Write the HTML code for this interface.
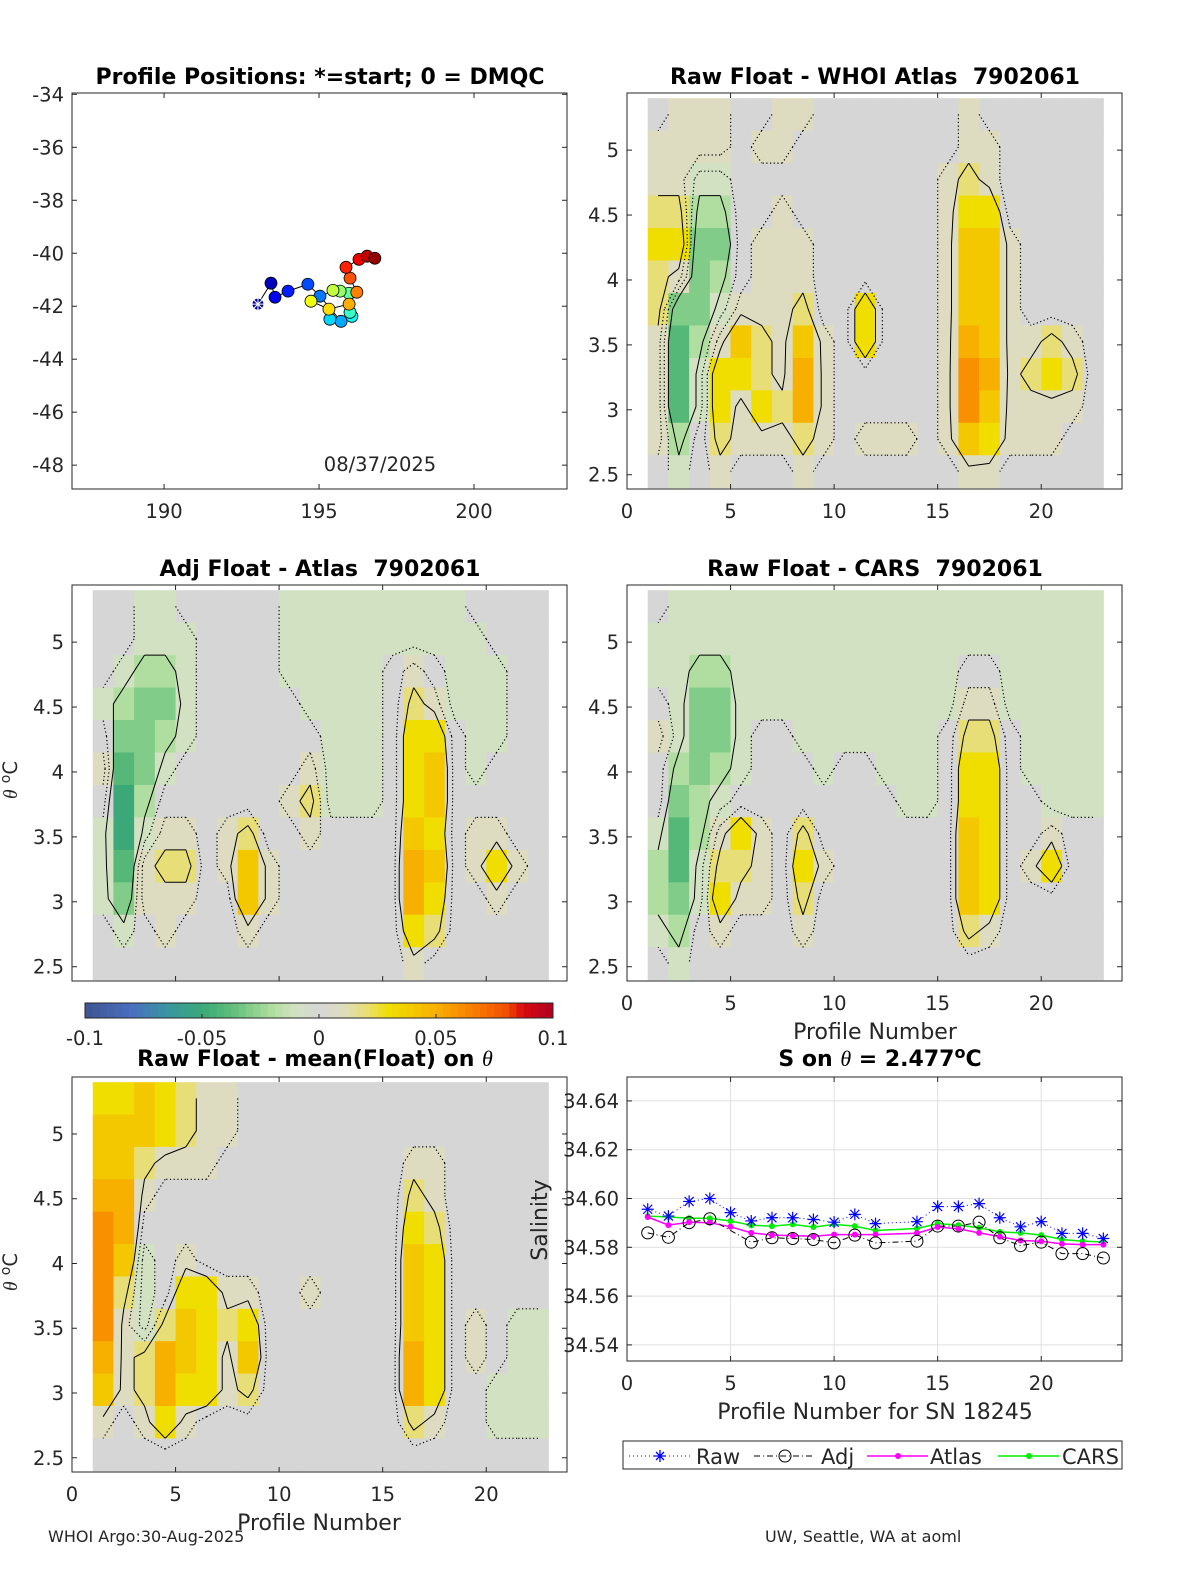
<!DOCTYPE html>
<html><head><meta charset="utf-8"><style>
html,body{margin:0;padding:0;background:#fff}
svg{display:block}
text{font-family:"DejaVu Sans","Liberation Sans",sans-serif;fill:#262626}
.t{font-weight:bold;font-size:22px;fill:#000}
.tk{font-size:19.5px}
</style></head><body>
<svg id="fig" width="1200" height="1575" viewBox="0 0 1200 1575" xmlns="http://www.w3.org/2000/svg">
<rect width="1200" height="1575" fill="#fff"/>
<g id="p1"></g>
<g id="p2"></g>
<g id="p3"></g>
<g id="p4"></g>
<g id="p5"></g>
<g id="p6"></g>
<g id="cb"></g>
<text class="t" x="320" y="84" text-anchor="middle">Profile Positions: *=start; 0 = DMQC</text>
<text class="t" x="875" y="84" text-anchor="middle">Raw Float - WHOI Atlas&#160; 7902061</text>
<text class="t" x="320" y="576" text-anchor="middle">Adj Float - Atlas&#160; 7902061</text>
<text class="t" x="875" y="576" text-anchor="middle">Raw Float - CARS&#160; 7902061</text>
<text class="t" x="315" y="1066" text-anchor="middle">Raw Float - mean(Float) on <tspan font-family="Liberation Serif" font-style="italic" font-weight="normal">θ</tspan></text>
<text class="t" x="880" y="1066" text-anchor="middle">S on <tspan font-family="Liberation Serif" font-style="italic" font-weight="normal">θ</tspan> = 2.477<tspan dy="-8" font-size="16">o</tspan><tspan dy="8">C</tspan></text>
<text class="tk" x="380" y="471" text-anchor="middle">08/37/2025</text>
<text class="tk" x="0" y="0" font-size="20" transform="translate(17,780) rotate(-90)" text-anchor="middle"><tspan font-family="Liberation Serif" font-style="italic">θ</tspan> <tspan dy="-7" font-size="14">o</tspan><tspan dy="7">C</tspan></text>
<text class="tk" x="0" y="0" font-size="20" transform="translate(17,1272) rotate(-90)" text-anchor="middle"><tspan font-family="Liberation Serif" font-style="italic">θ</tspan> <tspan dy="-7" font-size="14">o</tspan><tspan dy="7">C</tspan></text>
<text x="0" y="0" font-size="22" transform="translate(547,1220) rotate(-90)" text-anchor="middle">Salinity</text>
<text x="875" y="1039" font-size="22" text-anchor="middle">Profile Number</text>
<text x="319" y="1530" font-size="22" text-anchor="middle">Profile Number</text>
<text x="875" y="1419" font-size="22" text-anchor="middle">Profile Number for SN 18245</text>
<text x="48" y="1542" font-size="16">WHOI Argo:30-Aug-2025</text>
<text x="765" y="1542" font-size="16">UW, Seattle, WA at aoml</text>
<g id="legend">
<rect x="623" y="1441" width="499" height="28" fill="#fff" stroke="#262626" stroke-width="1"/>
<line x1="629" y1="1456" x2="691" y2="1456" stroke="#0000ff" stroke-dasharray="1,3"/>
<path d="M654 1456h12M660 1450v12M656 1452l8 8M664 1452l-8 8" stroke="#0000ff" stroke-width="1.3"/>
<text x="696" y="1464" font-size="21">Raw</text>
<line x1="754" y1="1456" x2="815" y2="1456" stroke="#000" stroke-dasharray="6,3,1,3"/>
<circle cx="785" cy="1456" r="6" fill="none" stroke="#000"/>
<text x="821" y="1464" font-size="21">Adj</text>
<line x1="867" y1="1456" x2="928" y2="1456" stroke="#ff00ff" stroke-width="1.5"/>
<circle cx="898" cy="1456" r="3" fill="#ff00ff"/>
<text x="930" y="1464" font-size="21">Atlas</text>
<line x1="998" y1="1456" x2="1059" y2="1456" stroke="#00ee00" stroke-width="1.5"/>
<circle cx="1029" cy="1456" r="3" fill="#00ee00"/>
<text x="1062" y="1464" font-size="21">CARS</text>
</g>
</svg>
<script>
// ---------- data ----------
const trackLon=[193.03,193.45,193.58,194.0,194.64,195.03,195.71,195.35,196.06,196.0,195.97,195.68,195.45,194.74,195.32,195.97,196.22,196.0,195.87,196.29,196.55,196.80];
const trackLat=[-41.92,-41.13,-41.66,-41.43,-41.17,-41.62,-42.57,-42.49,-42.38,-42.23,-41.51,-41.43,-41.40,-41.81,-42.11,-41.92,-41.47,-40.94,-40.53,-40.23,-40.11,-40.19];
const thetaBase=2.4, thetaStep=0.25;
// rows top (5.15-5.4) to bottom (2.4-2.65); units of 0.01 psu; columns profiles 1..22
const rawWhoi=[
[0,1,1,1,0,0,1,1,0,0,0,0,0,0,0,1,0,0,0,0,0,0],
[1,1,1,1,0,1,1,0,0,0,0,0,0,0,0,1,1,0,0,0,0,0],
[1,1,-1,-1,0,0,0,0,0,0,0,0,0,0,1,2,1,0,0,0,0,0],
[2,2,-2,-2,0,0,1,0,0,0,0,0,0,0,1,3,3,0,0,0,0,0],
[3,3,-3,-3,0,1,1,1,0,0,0,0,0,0,1,4,4,1,0,0,0,0],
[2,1,-3,-2,0,1,1,1,0,0,0,0,0,0,1,4,4,1,0,0,0,0],
[2,-3,-3,-1,1,1,1,2,0,0,3,0,0,0,1,4,4,1,0,0,0,0],
[1,-4,-2,1,4,2,1,4,1,0,3,0,0,0,1,5,4,1,1,2,1,0],
[1,-4,-1,3,3,2,1,5,1,0,0,0,0,0,1,6,5,1,2,3,2,0],
[1,-4,-1,3,1,3,2,5,1,0,0,0,0,0,1,6,4,1,1,1,1,0],
[1,-2,0,2,1,1,1,2,1,0,1,1,1,0,1,4,3,1,1,1,0,0],
[0,-1,0,1,0,0,0,1,0,0,0,0,0,0,0,1,1,0,0,0,0,0]];
const adjAtlas=[
[0,0,-1,-1,0,0,0,0,0,-1,-1,-1,-1,-1,-1,-1,-1,-1,0,0,0,0],
[0,0,-1,-1,-1,0,0,0,0,-1,-1,-1,-1,-1,-1,-1,-1,-1,-1,0,0,0],
[0,-1,-2,-2,-1,0,0,0,0,-1,-1,-1,-1,-1,0,1,0,-1,-1,-1,0,0],
[-1,-2,-3,-3,-1,0,0,0,0,0,-1,-1,-1,-1,0,2,1,-1,-1,-1,0,0],
[0,-3,-3,-2,-1,0,0,0,0,0,0,-1,-1,-1,0,3,3,0,-1,-1,0,0],
[1,-4,-3,-1,0,0,0,0,0,0,1,-1,-1,-1,0,3,4,0,-1,0,0,0],
[0,-5,-2,0,0,0,0,0,0,1,2,-1,-1,-1,0,3,4,0,0,0,0,0],
[-1,-5,-1,1,1,0,1,2,0,0,1,0,0,0,0,4,3,0,1,1,0,0],
[-1,-4,1,2,2,0,1,4,1,0,0,0,0,0,0,5,4,0,1,3,1,0],
[-1,-3,1,1,1,0,0,4,1,0,0,0,0,0,0,5,3,0,0,1,0,0],
[0,-1,0,1,0,0,0,1,0,0,0,0,0,0,0,3,2,0,0,0,0,0],
[0,0,0,0,0,0,0,0,0,0,0,0,0,0,0,1,0,0,0,0,0,0]];
const rawCars=[
[0,-1,-1,-1,-1,-1,-1,-1,-1,-1,-1,-1,-1,-1,-1,-1,-1,-1,-1,-1,-1,-1],
[-1,-1,-1,-1,-1,-1,-1,-1,-1,-1,-1,-1,-1,-1,-1,-1,-1,-1,-1,-1,-1,-1],
[-1,-1,-2,-2,-1,-1,-1,-1,-1,-1,-1,-1,-1,-1,-1,0,0,-1,-1,-1,-1,-1],
[0,-1,-3,-3,-1,-1,-1,-1,-1,-1,-1,-1,-1,-1,-1,1,1,-1,-1,-1,-1,-1],
[1,-1,-3,-3,-1,0,0,-1,-1,-1,-1,-1,-1,-1,0,2,2,0,-1,-1,-1,-1],
[0,-2,-3,-2,-1,0,0,0,-1,0,0,-1,-1,-1,0,3,3,0,-1,-1,-1,-1],
[0,-3,-2,-1,0,0,0,0,0,0,0,0,-1,-1,0,3,3,0,0,-1,-1,-1],
[-1,-4,-2,1,3,1,0,2,0,0,0,0,0,0,0,4,3,0,0,1,0,0],
[-2,-4,-1,2,2,1,0,3,1,0,0,0,0,0,0,4,3,0,1,3,0,0],
[-2,-3,-1,3,1,1,0,2,0,0,0,0,0,0,0,4,3,0,0,0,0,0],
[-1,-2,0,1,0,0,0,1,0,0,0,0,0,0,0,2,1,0,0,0,0,0],
[0,-1,0,0,0,0,0,0,0,0,0,0,0,0,0,0,0,0,0,0,0,0]];
const rawMean=[
[3,3,4,3,2,1,1,0,0,0,0,0,0,0,0,0,0,0,0,0,0,0],
[4,4,4,3,2,1,1,0,0,0,0,0,0,0,0,0,0,0,0,0,0,0],
[4,4,2,1,1,1,0,0,0,0,0,0,0,0,0,1,1,0,0,0,0,0],
[5,5,1,0,0,0,0,0,0,0,0,0,0,0,0,2,1,0,0,0,0,0],
[6,5,0,0,0,0,0,0,0,0,0,0,0,0,0,3,2,0,0,0,0,0],
[6,4,-1,0,1,0,0,0,0,0,0,0,0,0,0,4,3,0,0,0,0,0],
[6,2,-1,0,3,3,1,1,0,0,1,0,0,0,0,4,3,0,0,0,0,0],
[6,1,-1,2,4,3,2,3,0,0,0,0,0,0,0,4,3,0,1,0,-1,-1],
[5,1,2,5,4,3,1,4,0,0,0,0,0,0,0,5,3,0,1,0,-1,-1],
[4,1,2,5,3,3,1,2,0,0,0,0,0,0,0,5,3,0,0,-1,-1,-1],
[1,0,1,3,1,0,0,0,0,0,0,0,0,0,0,2,1,0,0,-1,-1,-1],
[0,0,0,0,0,0,0,0,0,0,0,0,0,0,0,0,0,0,0,0,0,0]];
const rawProf=[1,2,3,4,5,6,7,8,9,10,11,12,14,15,16,17,18,19,20,21,22,23];
const rawSal=[34.5956,34.5928,34.5988,34.6000,34.5942,34.5908,34.5921,34.5921,34.5914,34.5903,34.5935,34.5897,34.5905,34.5967,34.5967,34.5979,34.5921,34.5884,34.5905,34.5857,34.5857,34.5836];
const adjProf=[1,2,3,4,6,7,8,9,10,11,12,14,15,16,17,18,19,20,21,22,23];
const adjSal=[34.5859,34.5841,34.5901,34.5917,34.5821,34.5839,34.5836,34.5832,34.5818,34.5850,34.5818,34.5825,34.5887,34.5887,34.5903,34.5839,34.5807,34.5821,34.5774,34.5774,34.5756];
const atlasSal=[34.5924,34.5891,34.5903,34.5901,34.5884,34.5859,34.5850,34.5848,34.5845,34.5852,34.5852,34.5852,34.5858,34.5883,34.5876,34.5859,34.5844,34.5828,34.5825,34.5814,34.5811,34.5811];
const carsSal=[34.5928,34.5924,34.5919,34.5919,34.5908,34.5890,34.5887,34.5894,34.5883,34.5894,34.5887,34.5869,34.5877,34.5897,34.5891,34.5880,34.5863,34.5859,34.5850,34.5832,34.5825,34.5822];
const thetaTicks=[2.5,3,3.5,4,4.5,5];
const profTicks=[0,5,10,15,20];
const salTicks=[34.54,34.56,34.58,34.60,34.62,34.64];
const lonTicks=[190,195,200];
const latTicks=[-34,-36,-38,-40,-42,-44,-46,-48];
const cbTicks=[-0.1,-0.05,0,0.05,0.1];

// ---------- helpers ----------
const NS='http://www.w3.org/2000/svg';
function mk(parent,tag,attrs,txt){const e=document.createElementNS(NS,tag);for(const k in attrs)e.setAttribute(k,attrs[k]);if(txt!==undefined)e.textContent=txt;parent.appendChild(e);return e;}
function lin(d0,d1,r0,r1){return v=>r0+(v-d0)/(d1-d0)*(r1-r0);}
const stops=[[-10,[62,85,144]],[-8,[74,111,192]],[-6.5,[58,150,160]],[-5,[58,168,120]],[-4,[85,184,120]],[-3,[128,204,136]],[-2,[176,222,160]],[-1,[210,225,194]],[0,[214,214,214]],[1,[222,220,192]],[2,[232,222,120]],[3,[240,222,0]],[4,[244,200,0]],[5,[248,176,0]],[6,[248,144,0]],[7,[248,112,0]],[8,[240,80,0]],[8.7,[216,10,16]],[10,[176,0,32]]];
function cmap(v){v=Math.max(-10,Math.min(10,v));for(let i=0;i<stops.length-1;i++){const a=stops[i],b=stops[i+1];if(v<=b[0]){const t=(v-a[0])/(b[0]-a[0]);const c=a[1].map((x,k)=>Math.round(x+(b[1][k]-x)*t));return 'rgb('+c.join(',')+')';}}return 'rgb(176,0,32)';}
function jet(t){const r=Math.min(1,Math.max(0,1.5-Math.abs(4*t-3))),g=Math.min(1,Math.max(0,1.5-Math.abs(4*t-2))),b=Math.min(1,Math.max(0,1.5-Math.abs(4*t-1)));return 'rgb('+[r,g,b].map(x=>Math.round(x*255)).join(',')+')';}

function frame(g,x0,y0,w,h,xs,ys,xt,yt,showX,yLeft){
  mk(g,'rect',{x:x0,y:y0,width:w,height:h,fill:'none',stroke:'#262626','stroke-width':1});
  xt.forEach(v=>{const x=xs(v);
    const l1=mk(g,'line',{x1:x,y1:y0,x2:x,y2:y0+5,stroke:'#262626'});
    
    
    mk(g,'line',{x1:x,y1:y0+h,x2:x,y2:y0+h-5,stroke:'#262626'});
    if(showX){const t=mk(g,'text',{x:x,y:y0+h+29,'text-anchor':'middle',class:'tk'},String(v));
      
      }
  });
  yt.forEach(v=>{const y=ys(v);
    mk(g,'line',{x1:x0,y1:y,x2:x0+5,y2:y,stroke:'#262626'});
    mk(g,'line',{x1:x0+w,y1:y,x2:x0+w-5,y2:y,stroke:'#262626'});
    const t=mk(g,'text',{x:x0-8,y:y+7,'text-anchor':'end',class:'tk'},yLeft(v));
    
    
  });
}

function heat(g,data,x0,y0,w,h,showX){
  const xs=lin(0,23.9,x0,x0+w), ys=lin(2.39,5.44,y0+h,y0);
  const nr=data.length, nc=data[0].length;
  const cells=mk(g,'g',{});
  
  
  for(let i=0;i<nr;i++)for(let j=0;j<nc;j++){
    const tb=thetaBase+(nr-1-i)*thetaStep;
    const xa=xs(j+1),xb=xs(j+2),ya=ys(tb+thetaStep),yb=ys(tb);
    const r=mk(cells,'rect',{x:xa,y:ya,width:xb-xa+0.5,height:yb-ya+0.5,fill:cmap(data[i][j])});
    
    
  }
  const cx=j=>xs(j+1.5), cy=i=>ys(thetaBase+(nr-1-i)*thetaStep+thetaStep/2);
  [[1.5,false],[-1.5,false],[0.5,true],[-0.5,true]].forEach(([lev,dot])=>{
    let d='';
    for(let i=0;i<nr-1;i++)for(let j=0;j<nc-1;j++){
      const a=data[i][j],b=data[i][j+1],c=data[i+1][j+1],e=data[i+1][j];
      const P=[];
      const ed=(v1,v2,x1,y1,x2,y2)=>{if((v1>lev)!==(v2>lev)){const t=(lev-v1)/(v2-v1);P.push([x1+(x2-x1)*t,y1+(y2-y1)*t]);}};
      ed(a,b,cx(j),cy(i),cx(j+1),cy(i));
      ed(b,c,cx(j+1),cy(i),cx(j+1),cy(i+1));
      ed(c,e,cx(j+1),cy(i+1),cx(j),cy(i+1));
      ed(e,a,cx(j),cy(i+1),cx(j),cy(i));
      for(let k=0;k+1<P.length;k+=2)d+='M'+P[k][0].toFixed(1)+' '+P[k][1].toFixed(1)+'L'+P[k+1][0].toFixed(1)+' '+P[k+1][1].toFixed(1);
    }
    const p=mk(g,'path',{d:d,fill:'none',stroke:'#000','stroke-width':dot?1.2:1,'stroke-dasharray':dot?'1.2,2.5':'none'});
    
    
  });
  frame(g,x0,y0,w,h,xs,ys,profTicks,thetaTicks,showX,v=>String(v));
}

// ---------- panel 1: positions ----------
(function(){
  const g=document.getElementById('p1');
  const x0=72,y0=93,w=495,h=396;
  const xs=lin(187.03,203,x0,x0+w), ys=lin(-48.9,-33.95,y0+h,y0);
  const line=mk(g,'polyline',{points:trackLon.map((v,i)=>xs(v)+','+ys(trackLat[i])).join(' '),fill:'none',stroke:'#000','stroke-width':1});
  
  
  trackLon.forEach((v,i)=>{
    const x=xs(v),y=ys(trackLat[i]);
    if(i===0){
      const s=mk(g,'circle',{cx:x,cy:y,r:6,fill:'#00008f',stroke:'#fff','stroke-width':1});
      
      
      mk(g,'path',{d:`M${x-6} ${y}h12M${x} ${y-6}v12M${x-4} ${y-4}l8 8M${x+4} ${y-4}l-8 8`,stroke:'#fff','stroke-width':1});
    } else {
      const c=mk(g,'circle',{cx:x,cy:y,r:6,fill:jet((i-1)/(trackLon.length-2)*0.92+0.06),stroke:'#000','stroke-width':0.8});
      
      
    }
  });
  frame(g,x0,y0,w,h,xs,ys,lonTicks,latTicks,true,v=>String(v));
})();

heat(document.getElementById('p2'),rawWhoi,627,93,495,396,true);
heat(document.getElementById('p3'),adjAtlas,72,585,495,396,false);
heat(document.getElementById('p4'),rawCars,627,585,495,396,true);
heat(document.getElementById('p5'),rawMean,72,1077,495,395,true);

// ---------- colorbar ----------
(function(){
  const g=document.getElementById('cb');
  const x0=85,x1=553,y0=1003,h=15;
  const xs=lin(-0.1,0.1,x0,x1);
  const n=64;
  for(let k=0;k<n;k++){
    const v=-10+(k+0.5)*20/n;
    const r=mk(g,'rect',{x:x0+k*(x1-x0)/n,y:y0,width:(x1-x0)/n+0.5,height:h,fill:cmap(v)});
    
    
  }
  mk(g,'rect',{x:x0,y:y0,width:x1-x0,height:h,fill:'none',stroke:'#262626'});
  cbTicks.forEach(v=>{
    mk(g,'line',{x1:xs(v),y1:y0+h,x2:xs(v),y2:y0+h-4,stroke:'#262626'});
    const t=mk(g,'text',{x:xs(v),y:y0+42,'text-anchor':'middle',class:'tk'},String(v));
    
    
  });
})();

// ---------- panel 6: salinity ----------
(function(){
  const g=document.getElementById('p6');
  const x0=627,y0=1077,w=495,h=284;
  const xs=lin(0,23.9,x0,x0+w), ys=lin(34.5334,34.6498,y0+h,y0);
  profTicks.forEach(v=>{mk(g,'line',{x1:xs(v),y1:y0,x2:xs(v),y2:y0+h,stroke:'#e0e0e0'});});
  salTicks.forEach(v=>{mk(g,'line',{x1:x0,y1:ys(v),x2:x0+w,y2:ys(v),stroke:'#e0e0e0'});});
  frame(g,x0,y0,w,h,xs,ys,profTicks,salTicks,true,v=>v.toFixed(2));
  const pts=(xa,ya)=>xa.map((p,i)=>xs(p).toFixed(1)+','+ys(ya[i]).toFixed(1)).join(' ');
  let l;
  l=mk(g,'polyline',{points:pts(rawProf,carsSal),fill:'none',stroke:'#00ee00','stroke-width':1.5});
  
  
  l=mk(g,'polyline',{points:pts(rawProf,atlasSal),fill:'none',stroke:'#ff00ff','stroke-width':1.5});
  
  
  l=mk(g,'polyline',{points:pts(adjProf,adjSal),fill:'none',stroke:'#000','stroke-dasharray':'6,3,1,3'});
  
  
  l=mk(g,'polyline',{points:pts(rawProf,rawSal),fill:'none',stroke:'#0000ff','stroke-dasharray':'1,3'});
  
  
  rawProf.forEach((p,i)=>{const x=xs(p),y=ys(carsSal[i]);
    const c=mk(g,'circle',{cx:x,cy:y,r:3,fill:'#00ee00'});
    
    });
  rawProf.forEach((p,i)=>{const x=xs(p),y=ys(atlasSal[i]);
    const c=mk(g,'circle',{cx:x,cy:y,r:3,fill:'#ff00ff'});
    
    });
  adjProf.forEach((p,i)=>{const x=xs(p),y=ys(adjSal[i]);
    const c=mk(g,'circle',{cx:x,cy:y,r:6,fill:'none',stroke:'#000'});
    
    });
  rawProf.forEach((p,i)=>{const x=xs(p),y=ys(rawSal[i]);
    const s=mk(g,'path',{d:`M${x-6} ${y}h12M${x} ${y-6}v12M${x-4.5} ${y-4.5}l9 9M${x+4.5} ${y-4.5}l-9 9`,stroke:'#0000ff','stroke-width':1.2});
    
    });
})();
</script>
</body></html>
